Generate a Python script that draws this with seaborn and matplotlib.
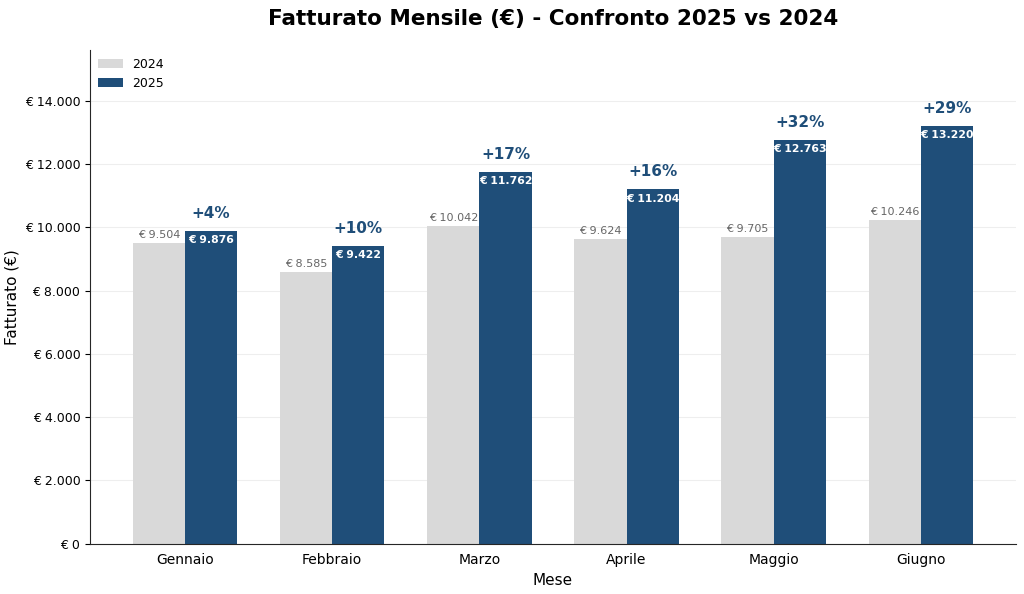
"""
Fatturato mensile 2025 vs 2024 - grafico a barre raggruppate
"""
import numpy as np
import pandas as pd
import matplotlib
matplotlib.use("Agg")
import matplotlib.pyplot as plt
import seaborn as sns

mesi = ["Gennaio", "Febbraio", "Marzo", "Aprile", "Maggio", "Giugno"]
fatturato_2024 = [9504, 8585, 10042, 9624, 9705, 10246]
fatturato_2025 = [9876, 9422, 11762, 11204, 12763, 13220]
anni = ["2024", "2025"]

GRIGIO = "#d9d9d9"
BLU = "#1f4e79"


def euro(v):
    return "€ " + f"{v:,.0f}".replace(",", ".")


df = pd.DataFrame({
    "Mese": mesi * 2,
    "Anno": [anni[0]] * len(mesi) + [anni[1]] * len(mesi),
    "Fatturato": fatturato_2024 + fatturato_2025,
})

sns.set_style("white")
plt.rcParams["font.family"] = ["DejaVu Sans"]
plt.rcParams["text.color"] = "black"
plt.rcParams["axes.labelcolor"] = "black"
plt.rcParams["xtick.color"] = "black"
plt.rcParams["ytick.color"] = "black"

fig, ax = plt.subplots(figsize=(10.24, 5.94), dpi=100)
sns.barplot(data=df, x="Mese", y="Fatturato", hue="Anno", order=mesi,
            hue_order=anni, palette=[GRIGIO, BLU], width=0.71, ax=ax,
            saturation=1, errorbar=None, linewidth=0, edgecolor="none")

ax.set_xlim(-0.645, len(mesi) - 1 + 0.645)
ax.set_ylim(0, max(fatturato_2025) * 1.18)
ax.yaxis.set_major_formatter(plt.FuncFormatter(lambda v, p: euro(v)))
ax.grid(axis="y", color="#eeeeee", linewidth=0.8)
ax.set_axisbelow(True)
sns.despine(ax=ax)

c_2024, c_2025 = ax.containers[0], ax.containers[1]
for bar, v in zip(c_2024, fatturato_2024):
    ax.text(bar.get_x() + bar.get_width() / 2, v + 100, euro(v),
            ha="center", va="bottom", fontsize=8, color="#666666")
for bar, v, old in zip(c_2025, fatturato_2025, fatturato_2024):
    x = bar.get_x() + bar.get_width() / 2
    ax.text(x, v - 130, euro(v), ha="center", va="top", fontsize=7.8,
            color="white", fontweight="bold")
    pct = (v - old) / old * 100
    ax.text(x, v + 320, f"+{pct:.0f}%", ha="center", va="bottom",
            fontsize=11, color=BLU, fontweight="bold")

ax.set_title("Fatturato Mensile (€) - Confronto 2025 vs 2024",
             fontsize=15.5, fontweight="bold", pad=18)
ax.set_xlabel("Mese", fontsize=11)
ax.set_ylabel("Fatturato (€)", fontsize=11)
ax.tick_params(axis="x", labelsize=10)
ax.tick_params(axis="y", labelsize=9, left=True)
ax.legend(loc="upper left", frameon=False, fontsize=9, title=None,
          borderaxespad=0.2)

fig.subplots_adjust(left=0.088, right=0.992, top=0.915, bottom=0.085)
fig.savefig("out.png", dpi=100)
